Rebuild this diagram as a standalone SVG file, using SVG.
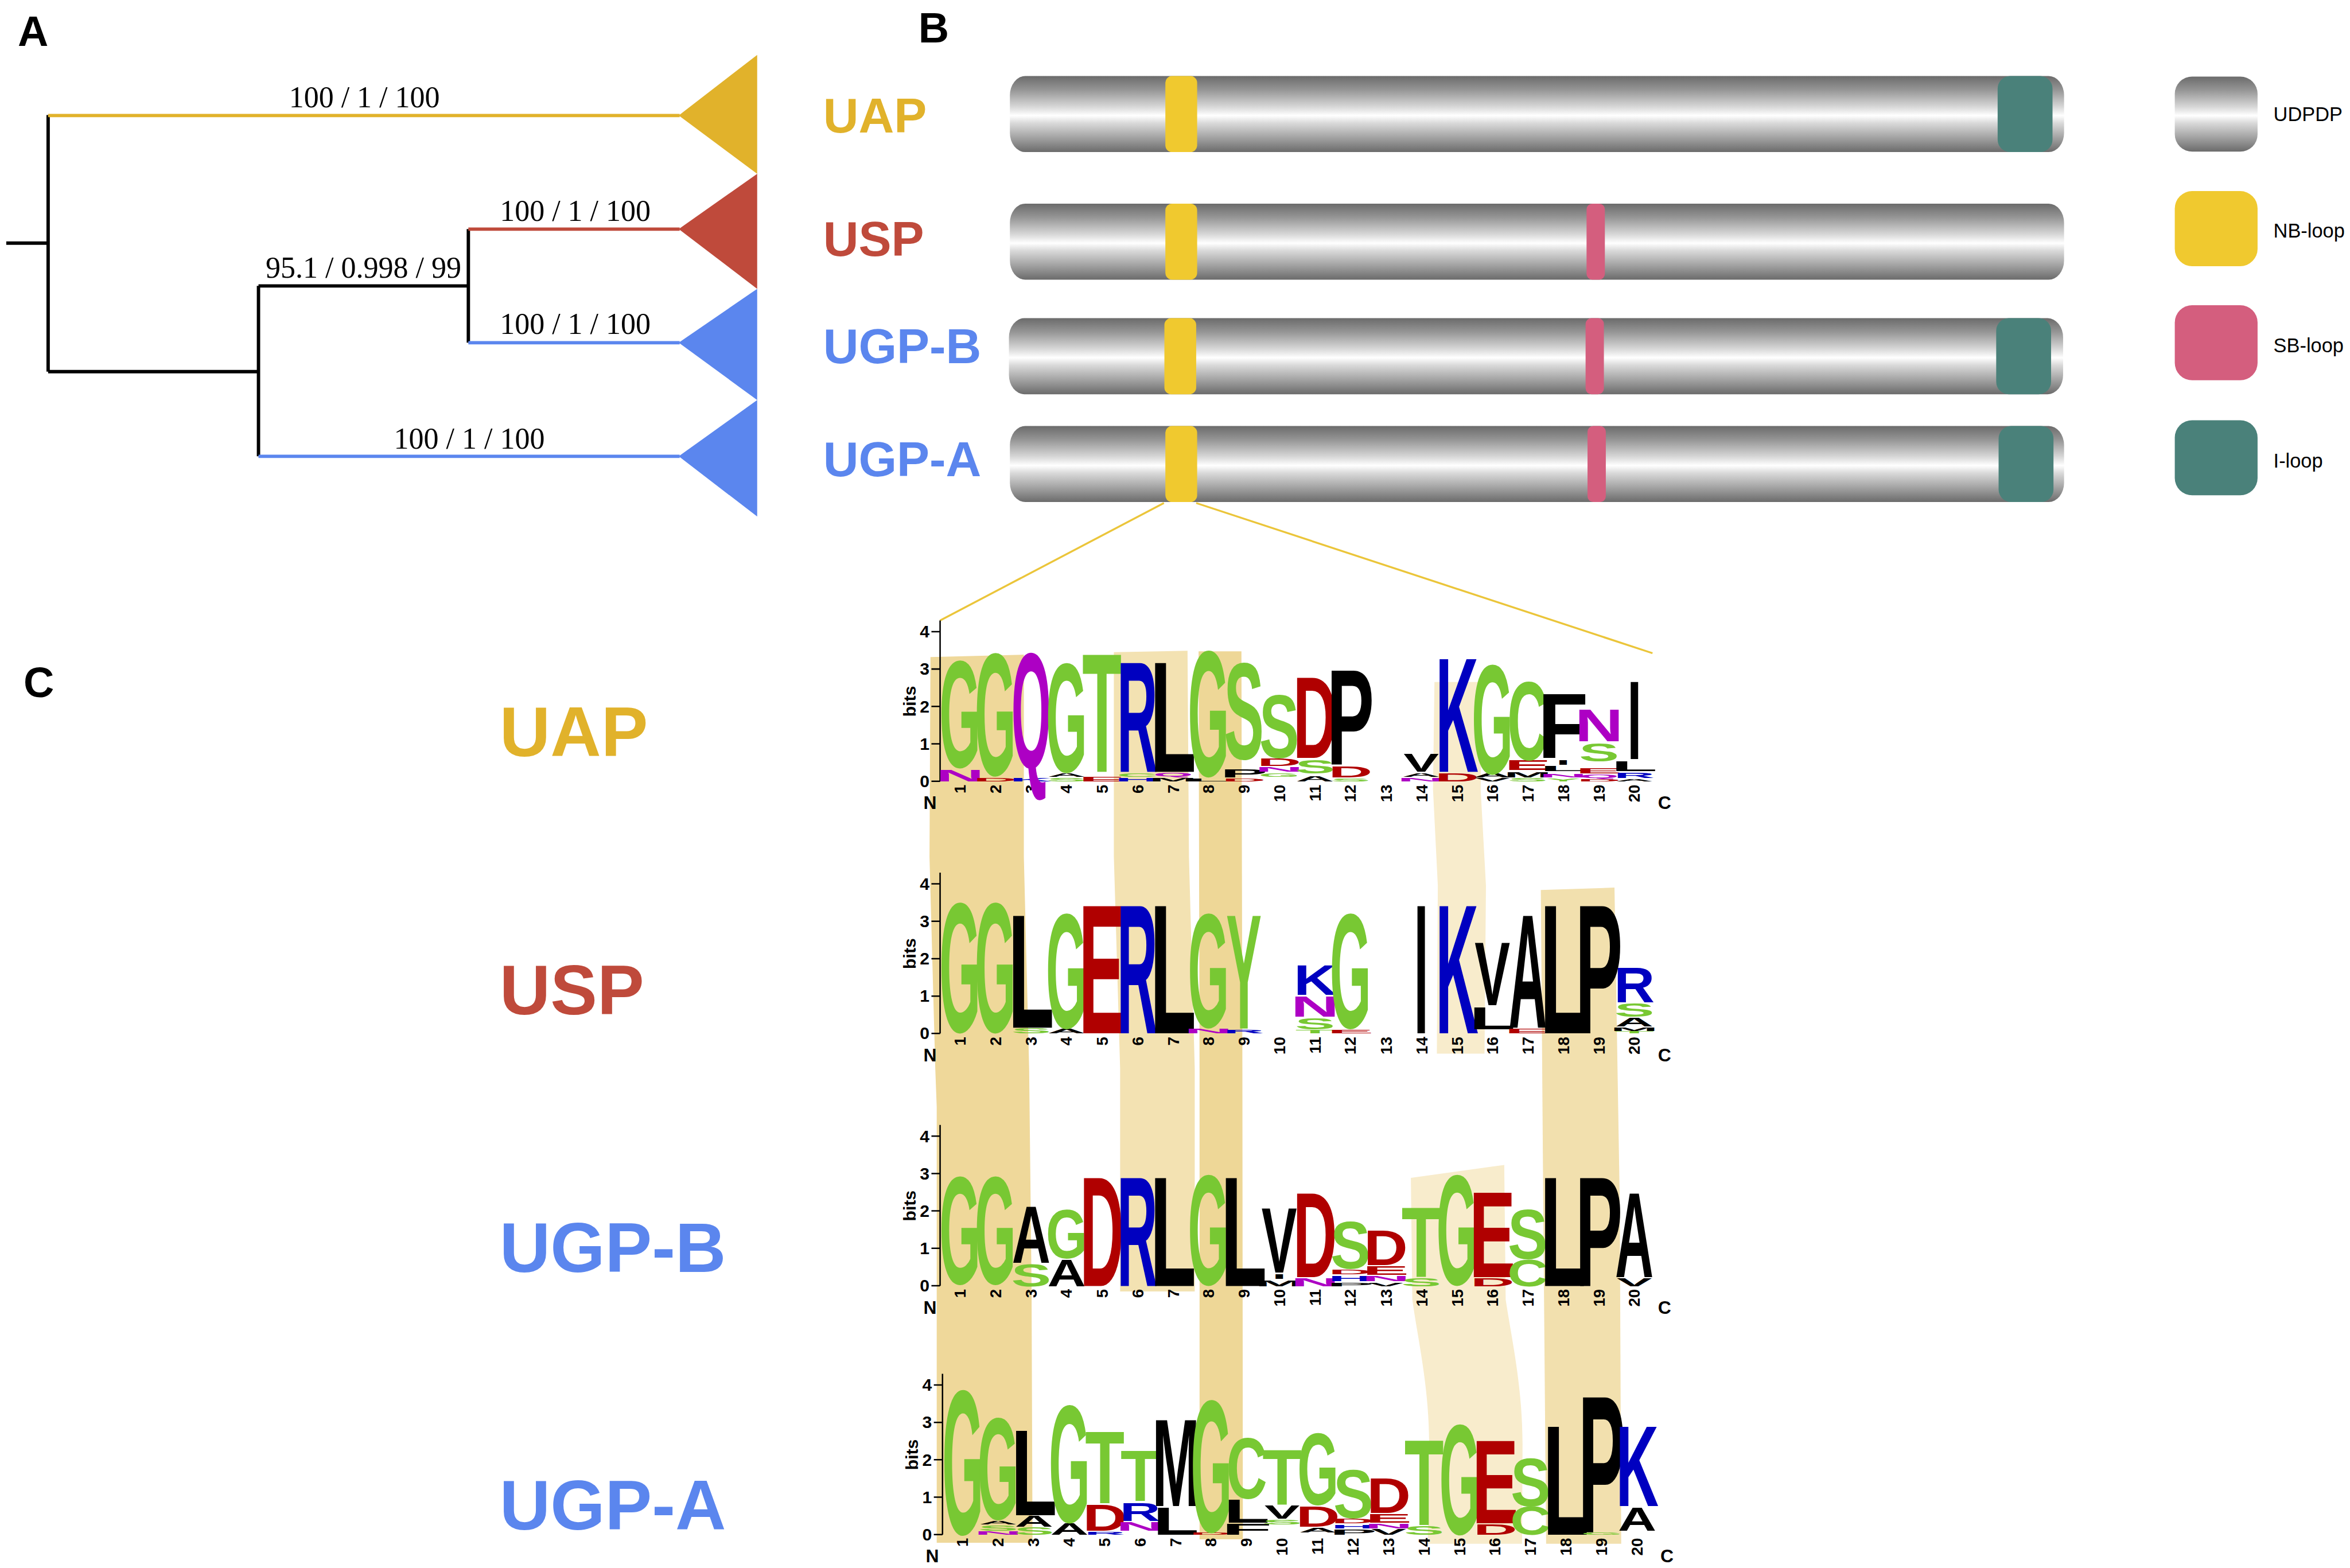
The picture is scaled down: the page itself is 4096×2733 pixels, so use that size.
<svg xmlns="http://www.w3.org/2000/svg" width="4096" height="2733" viewBox="0 0 4096 2733">
<defs>
<style>
.pl{font-family:"Liberation Sans",Arial,sans-serif;font-weight:700;font-size:88px;fill:#000}
.tl{font-family:"Liberation Serif","Times New Roman",serif;font-size:62px;fill:#000;text-anchor:middle}
.nb{font-family:"Liberation Sans",Arial,sans-serif;font-weight:700;font-size:102px}
.nc{font-family:"Liberation Sans",Arial,sans-serif;font-weight:700;font-size:146px}
.lgd{font-family:"Liberation Sans",Arial,sans-serif;font-size:41px;fill:#000}
.gold{fill:#E1B22B}.red{fill:#BF4A3B}.blue{fill:#5B86EE}
.lg text{font-family:"Liberation Sans",Arial,Helvetica,sans-serif;font-weight:700;font-size:100px;text-anchor:middle}
.g{fill:#78C833}.b{fill:#0000C0}.r{fill:#B00000}.k{fill:#000}.m{fill:#AD00C4}
.ax text{font-family:"Liberation Sans",Arial,sans-serif;font-weight:700;fill:#000}
.tk{font-size:36px;text-anchor:end}
.xn{font-size:33px;text-anchor:end}
.bits{font-size:36px;text-anchor:middle}
.ncx{font-size:38px;text-anchor:middle}
.bar{fill:url(#gray)}
.nbl{fill:#F0C92F}.sbl{fill:#D45E7E}.il{fill:#4A817A}
</style>
<linearGradient id="gray" x1="0" y1="0" x2="0" y2="1">
<stop offset="0" stop-color="#6b6b6b"/>
<stop offset="0.18" stop-color="#959595"/>
<stop offset="0.4" stop-color="#d6d6d6"/>
<stop offset="0.52" stop-color="#ffffff"/>
<stop offset="0.62" stop-color="#d9d9d9"/>
<stop offset="0.85" stop-color="#979797"/>
<stop offset="1" stop-color="#6b6b6b"/>
</linearGradient>
<g id="axis" class="ax">
<path d="M1953,-334V0M1935,0H1953M1935,-77.7H1953M1935,-155.4H1953M1935,-233.1H1953M1935,-310.8H1953" stroke="#000" stroke-width="3" fill="none"/>
<g class="tk"><text x="1931" y="12">0</text><text x="1931" y="-65.5">1</text><text x="1931" y="-143">2</text><text x="1931" y="-221">3</text><text x="1931" y="-298.5">4</text></g>
<text class="bits" transform="translate(1902,-166) rotate(-90)">bits</text>
<g class="xn">
<text transform="translate(2006,7) rotate(-90)">1</text>
<text transform="translate(2080,7) rotate(-90)">2</text>
<text transform="translate(2154,7) rotate(-90)">3</text>
<text transform="translate(2227,7) rotate(-90)">4</text>
<text transform="translate(2301,7) rotate(-90)">5</text>
<text transform="translate(2375,7) rotate(-90)">6</text>
<text transform="translate(2449,7) rotate(-90)">7</text>
<text transform="translate(2522,7) rotate(-90)">8</text>
<text transform="translate(2596,7) rotate(-90)">9</text>
<text transform="translate(2670,7) rotate(-90)">10</text>
<text transform="translate(2744,7) rotate(-90)">11</text>
<text transform="translate(2817,7) rotate(-90)">12</text>
<text transform="translate(2891,7) rotate(-90)">13</text>
<text transform="translate(2965,7) rotate(-90)">14</text>
<text transform="translate(3039,7) rotate(-90)">15</text>
<text transform="translate(3112,7) rotate(-90)">16</text>
<text transform="translate(3186,7) rotate(-90)">17</text>
<text transform="translate(3260,7) rotate(-90)">18</text>
<text transform="translate(3334,7) rotate(-90)">19</text>
<text transform="translate(3407,7) rotate(-90)">20</text>
</g>
<text class="ncx" x="1932" y="58">N</text><text class="ncx" x="3458" y="58">C</text>
</g>
</defs>
<rect width="4096" height="2733" fill="#fff"/>
<g transform="scale(0.839)">
<text class="pl" x="37" y="95">A</text>
<text class="pl" x="1908" y="88">B</text>
<text class="pl" x="49" y="1448">C</text>

<g id="connectors" fill="none" stroke-width="7">
<path d="M13,505H100M100,239V772M100,772H537M537,594V948M537,594H973M973,476V712" stroke="#000"/>
<path d="M100,240H1412" stroke="#E1B22B"/>
<path d="M973,476H1412" stroke="#BF4A3B"/>
<path d="M973,712H1412M537,948H1412" stroke="#5B86EE"/>
<path d="M2418,1045L1953,1289M2485,1045L3433,1357" stroke="#EBC53A" stroke-width="4"/>
</g>
<g id="tree-labels">
<text class="tl" x="757" y="223">100 / 1 / 100</text>
<text class="tl" x="1195" y="459">100 / 1 / 100</text>
<text class="tl" x="1195" y="694">100 / 1 / 100</text>
<text class="tl" x="975" y="932">100 / 1 / 100</text>
<text class="tl" x="755" y="577">95.1 / 0.998 / 99</text>
</g>
<g id="clade-UAP"><polygon class="gold" points="1410,240 1573,114 1573,361"/></g>
<g id="clade-USP"><polygon class="red" points="1410,476 1573,361 1573,600"/></g>
<g id="clade-UGP-B"><polygon class="blue" points="1410,712 1573,600 1573,831"/></g>
<g id="clade-UGP-A"><polygon class="blue" points="1410,948 1573,831 1573,1073"/></g>

<g id="domain-UAP">
<text class="nb gold" x="1710" y="275">UAP</text>
<rect class="bar" x="2098" y="158" width="2190" height="158" rx="32" ry="40"/>
<rect class="nbl" x="2421" y="158" width="66" height="158" rx="14"/>
<rect class="il" x="4150" y="158" width="114" height="158" rx="26"/>
</g>
<g id="domain-USP">
<text class="nb red" x="1710" y="532">USP</text>
<rect class="bar" x="2098" y="423" width="2190" height="158" rx="32" ry="40"/>
<rect class="nbl" x="2421" y="423" width="66" height="158" rx="14"/>
<rect class="sbl" x="3296" y="423" width="38" height="158" rx="12"/>
</g>
<g id="domain-UGP-B">
<text class="nb blue" x="1710" y="754">UGP-B</text>
<rect class="bar" x="2096" y="661" width="2190" height="158" rx="32" ry="40"/>
<rect class="nbl" x="2419" y="661" width="66" height="158" rx="14"/>
<rect class="sbl" x="3294" y="661" width="38" height="158" rx="12"/>
<rect class="il" x="4147" y="661" width="114" height="158" rx="26"/>
</g>
<g id="domain-UGP-A">
<text class="nb blue" x="1710" y="989">UGP-A</text>
<rect class="bar" x="2098" y="885" width="2190" height="158" rx="32" ry="40"/>
<rect class="nbl" x="2421" y="885" width="66" height="158" rx="14"/>
<rect class="sbl" x="3298" y="885" width="38" height="158" rx="12"/>
<rect class="il" x="4152" y="885" width="114" height="158" rx="26"/>
</g>

<g id="legend">
<rect class="bar" x="4518" y="159" width="172" height="156" rx="36"/>
<text class="lgd" x="4723" y="251">UDPDP</text>
<rect class="nbl" x="4518" y="397" width="172" height="156" rx="36"/>
<text class="lgd" x="4723" y="493">NB-loop</text>
<rect class="sbl" x="4518" y="634" width="172" height="156" rx="36"/>
<text class="lgd" x="4723" y="732">SB-loop</text>
<rect class="il" x="4518" y="873" width="172" height="156" rx="36"/>
<text class="lgd" x="4723" y="971">I-loop</text>
</g>

<g id="bands">
<polygon fill="#EFD89A" points="1933,1365 2127,1360 2127,1780 2138,2220 2143,2672 2145,3205 1946,3205 1946,2300 1943,2220 1931,1780"/>
<polygon fill="#F3E2B2" points="2314,1355 2467,1352 2470,1780 2482,2220 2482,2683 2327,2683 2327,2220 2314,1780"/>
<polygon fill="#EED797" points="2490,1353 2579,1353 2581,2220 2582,3198 2492,3198 2492,2220"/>
<polygon fill="#F8ECCC" points="2980,1417 3079,1417 3076,1640 3087,1840 3084,2189 2985,2189 2987,1840 2977,1640"/>
<path fill="#F8ECCC" d="M2931,2447L3125,2420L3128,2700C3140,2780 3163,2880 3163,3000L3162,3207L2966,3207L2969,3000C2969,2880 2945,2780 2934,2700Z"/>
<polygon fill="#F2E0AE" points="3201,1849 3354,1844 3365,2500 3368,3207 3212,3207 3206,2500"/>
</g>

<g id="label-C">
<text class="nc gold" x="1038" y="1571">UAP</text>
<text class="nc red" x="1038" y="2107">USP</text>
<text class="nc blue" x="1038" y="2643">UGP-B</text>
<text class="nc blue" x="1038" y="3178">UGP-A</text>
</g>

<g id="logo-UAP">
<use href="#axis" transform="translate(0,1623)"/>
<g class="lg" transform="translate(1880,1260) scale(1.0204,0.33333)">
<text class="m" transform="translate(112,1089) scale(1.361,1.075)">N</text>
<text class="g" transform="translate(112,1000) scale(1.082,9.497)">G</text>
<text class="r" transform="translate(184,1089) scale(1.241,.335)">D</text>
<text class="g" transform="translate(184,1050) scale(1.082,10.89)">G</text>
<text class="b" transform="translate(257,1089) scale(1.206,.335)">K</text>
<text class="m" transform="translate(257,1005) scale(1.036,10.27)">Q</text>
<text class="g" transform="translate(329,1089) scale(1.221,.293)">S</text>
<text class="k" transform="translate(329,1060) scale(1.086,.349)">A</text>
<text class="g" transform="translate(329,1030) scale(1.082,9.706)">G</text>
<text class="r" transform="translate(401,1089) scale(1.416,.405)">E</text>
<text class="g" transform="translate(401,1030) scale(1.316,10.59)">T</text>
<text class="b" transform="translate(473,1089) scale(1.261,.335)">H</text>
<text class="g" transform="translate(473,1060) scale(1.151,.349)">C</text>
<text class="b" transform="translate(473,1030) scale(1.146,9.846)">R</text>
<text class="k" transform="translate(546,1089) scale(1.165,.335)">M</text>
<text class="m" transform="translate(546,1058) scale(1.036,.321)">Q</text>
<text class="k" transform="translate(546,1030) scale(1.537,9.846)">L</text>
<text class="k" transform="translate(618,1089) scale(1.537,.265)">L</text>
<text class="g" transform="translate(618,1055) scale(1.082,11.17)">G</text>
<text class="r" transform="translate(690,1089) scale(1.241,.265)">D</text>
<text class="k" transform="translate(690,1065) scale(1.439,.698)">P</text>
<text class="g" transform="translate(690,950) scale(1.221,8.589)">S</text>
<text class="g" transform="translate(762,1060) scale(1.082,.349)">G</text>
<text class="m" transform="translate(762,1030) scale(1.361,.419)">N</text>
<text class="r" transform="translate(762,995) scale(1.241,.628)">D</text>
<text class="g" transform="translate(762,940) scale(1.221,5.586)">S</text>
<text class="k" transform="translate(835,1089) scale(1.086,.475)">A</text>
<text class="g" transform="translate(835,1040) scale(1.221,1.187)">S</text>
<text class="r" transform="translate(835,945) scale(1.241,7.262)">D</text>
<text class="g" transform="translate(907,1089) scale(1.221,.265)">S</text>
<text class="r" transform="translate(907,1065) scale(1.241,.978)">D</text>
<text class="k" transform="translate(907,985) scale(1.439,8.477)">P</text>
<text class="m" transform="translate(1051,1089) scale(1.361,.335)">N</text>
<text class="k" transform="translate(1051,1060) scale(1.086,.349)">A</text>
<text class="k" transform="translate(1051,1030) scale(1.082,1.606)">V</text>
<text class="r" transform="translate(1124,1089) scale(1.241,.754)">D</text>
<text class="b" transform="translate(1124,1030) scale(1.206,10.195)">K</text>
<text class="k" transform="translate(1196,1089) scale(1.082,.293)">V</text>
<text class="k" transform="translate(1196,1065) scale(1.086,.419)">A</text>
<text class="g" transform="translate(1196,1040) scale(1.082,9.706)">G</text>
<text class="g" transform="translate(1268,1089) scale(1.221,.293)">S</text>
<text class="k" transform="translate(1268,1065) scale(1.165,.489)">M</text>
<text class="r" transform="translate(1268,1020) scale(1.416,.838)">E</text>
<text class="g" transform="translate(1268,955) scale(1.151,6.983)">C</text>
<text class="g" transform="translate(1340,1089) scale(1.082,.237)">Y</text>
<text class="m" transform="translate(1340,1065) scale(1.361,.349)">N</text>
<text class="k" transform="translate(1340,1025) scale(1.537,.489)">L</text>
<text class="k" transform="translate(1340,985) scale(1.05,.419)">I</text>
<text class="k" transform="translate(1340,945) scale(1.68,5.796)">F</text>
<text class="r" transform="translate(1413,1089) scale(1.241,.196)">D</text>
<text class="m" transform="translate(1413,1070) scale(1.036,.349)">Q</text>
<text class="r" transform="translate(1413,1040) scale(1.416,.489)">E</text>
<text class="g" transform="translate(1413,965) scale(1.221,1.606)">S</text>
<text class="m" transform="translate(1413,840) scale(1.361,2.863)">N</text>
<text class="k" transform="translate(1485,1089) scale(1.086,.196)">A</text>
<text class="b" transform="translate(1485,1068) scale(1.146,.461)">R</text>
<text class="k" transform="translate(1485,1025) scale(1.537,.838)">L</text>
<text class="k" transform="translate(1485,950) scale(1.05,6.983)">I</text>
</g>
</g>

<g id="logo-USP">
<use href="#axis" transform="translate(0,2147)"/>
<g class="lg" transform="translate(1880,1780) scale(1.0204,0.33333)">
<text class="g" transform="translate(112,1090) scale(1.082,11.52)">G</text>
<text class="g" transform="translate(184,1090) scale(1.082,11.52)">G</text>
<text class="g" transform="translate(257,1100) scale(1.221,.489)">S</text>
<text class="k" transform="translate(257,1065) scale(1.537,10.125)">L</text>
<text class="k" transform="translate(329,1100) scale(1.086,.419)">A</text>
<text class="g" transform="translate(329,1065) scale(1.082,10.195)">G</text>
<text class="r" transform="translate(401,1100) scale(1.416,11.52)">E</text>
<text class="b" transform="translate(473,1100) scale(1.146,11.52)">R</text>
<text class="k" transform="translate(546,1100) scale(1.537,11.52)">L</text>
<text class="m" transform="translate(618,1100) scale(1.361,.419)">N</text>
<text class="g" transform="translate(618,1060) scale(1.082,10.125)">G</text>
<text class="b" transform="translate(690,1100) scale(1.146,.349)">R</text>
<text class="g" transform="translate(690,1070) scale(1.082,10.195)">Y</text>
<text class="g" transform="translate(835,1100) scale(1.316,.307)">T</text>
<text class="g" transform="translate(835,1075) scale(1.221,.978)">S</text>
<text class="m" transform="translate(835,995) scale(1.361,1.816)">N</text>
<text class="b" transform="translate(835,860) scale(1.206,2.681)">K</text>
<text class="r" transform="translate(907,1100) scale(1.416,.349)">E</text>
<text class="g" transform="translate(907,1065) scale(1.082,10.195)">G</text>
<text class="k" transform="translate(1051,1100) scale(1.05,11.52)">I</text>
<text class="b" transform="translate(1124,1100) scale(1.206,11.52)">K</text>
<text class="k" transform="translate(1196,1075) scale(1.537,1.955)">L</text>
<text class="k" transform="translate(1196,925) scale(1.082,5.656)">V</text>
<text class="r" transform="translate(1268,1100) scale(1.416,.391)">E</text>
<text class="k" transform="translate(1268,1065) scale(1.086,10.125)">A</text>
<text class="k" transform="translate(1340,1100) scale(1.537,11.52)">L</text>
<text class="k" transform="translate(1413,1100) scale(1.439,11.52)">P</text>
<text class="g" transform="translate(1485,1100) scale(1.316,.209)">T</text>
<text class="k" transform="translate(1485,1085) scale(1.165,.349)">M</text>
<text class="k" transform="translate(1485,1058) scale(1.086,.81)">A</text>
<text class="g" transform="translate(1485,995) scale(1.221,1.187)">S</text>
<text class="b" transform="translate(1485,905) scale(1.146,3.142)">R</text>
</g>
</g>

<g id="logo-UGP-B">
<use href="#axis" transform="translate(0,2671)"/>
<g class="lg" transform="translate(1880,2300) scale(1.0204,0.33333)">
<text class="g" transform="translate(112,1100) scale(1.082,9.567)">G</text>
<text class="g" transform="translate(184,1100) scale(1.082,9.567)">G</text>
<text class="g" transform="translate(257,1115) scale(1.221,1.955)">S</text>
<text class="k" transform="translate(257,970) scale(1.086,5.028)">A</text>
<text class="k" transform="translate(329,1115) scale(1.086,2.374)">A</text>
<text class="g" transform="translate(329,940) scale(1.082,4.329)">G</text>
<text class="r" transform="translate(401,1115) scale(1.241,9.776)">D</text>
<text class="b" transform="translate(473,1115) scale(1.146,9.776)">R</text>
<text class="k" transform="translate(546,1115) scale(1.537,9.776)">L</text>
<text class="g" transform="translate(618,1105) scale(1.082,9.776)">G</text>
<text class="k" transform="translate(690,1115) scale(1.537,9.776)">L</text>
<text class="k" transform="translate(762,1115) scale(1.165,.517)">M</text>
<text class="k" transform="translate(762,1070) scale(1.05,.419)">I</text>
<text class="k" transform="translate(762,1030) scale(1.082,5.796)">V</text>
<text class="m" transform="translate(835,1115) scale(1.361,.698)">N</text>
<text class="r" transform="translate(835,1060) scale(1.241,7.542)">D</text>
<text class="k" transform="translate(907,1115) scale(1.439,.349)">P</text>
<text class="b" transform="translate(907,1085) scale(1.261,.489)">H</text>
<text class="r" transform="translate(907,1040) scale(1.241,.419)">D</text>
<text class="g" transform="translate(907,1005) scale(1.221,4.19)">S</text>
<text class="k" transform="translate(979,1115) scale(1.082,.349)">V</text>
<text class="m" transform="translate(979,1085) scale(1.361,.489)">N</text>
<text class="r" transform="translate(979,1045) scale(1.416,.768)">E</text>
<text class="r" transform="translate(979,985) scale(1.241,3.142)">D</text>
<text class="g" transform="translate(1051,1115) scale(1.221,.698)">S</text>
<text class="g" transform="translate(1051,1060) scale(1.316,6.215)">T</text>
<text class="g" transform="translate(1124,1105) scale(1.082,9.776)">G</text>
<text class="r" transform="translate(1196,1115) scale(1.241,.698)">D</text>
<text class="r" transform="translate(1196,1060) scale(1.416,7.612)">E</text>
<text class="g" transform="translate(1268,1115) scale(1.151,2.374)">C</text>
<text class="g" transform="translate(1268,945) scale(1.221,4.399)">S</text>
<text class="k" transform="translate(1340,1115) scale(1.537,9.776)">L</text>
<text class="k" transform="translate(1413,1115) scale(1.439,9.776)">P</text>
<text class="k" transform="translate(1485,1115) scale(1.082,.698)">V</text>
<text class="k" transform="translate(1485,1060) scale(1.086,7.542)">A</text>
</g>
</g>

<g id="logo-UGP-A">
<use href="#axis" transform="translate(5,3188)"/>
<g class="lg" transform="translate(1886,2820) scale(1.0204,0.33333)">
<text class="g" transform="translate(112,1100) scale(1.082,12.85)">G</text>
<text class="m" transform="translate(184,1105) scale(1.361,.349)">N</text>
<text class="g" transform="translate(184,1080) scale(1.221,.489)">S</text>
<text class="k" transform="translate(184,1040) scale(1.086,.349)">A</text>
<text class="g" transform="translate(184,1010) scale(1.082,9.008)">G</text>
<text class="g" transform="translate(257,1105) scale(1.221,.628)">S</text>
<text class="k" transform="translate(257,1055) scale(1.086,.978)">A</text>
<text class="k" transform="translate(257,985) scale(1.537,7.612)">L</text>
<text class="k" transform="translate(329,1105) scale(1.086,1.047)">A</text>
<text class="g" transform="translate(329,1025) scale(1.082,10.43)">G</text>
<text class="b" transform="translate(401,1105) scale(1.146,.279)">R</text>
<text class="r" transform="translate(401,1080) scale(1.241,2.304)">D</text>
<text class="g" transform="translate(401,910) scale(1.316,6.424)">T</text>
<text class="m" transform="translate(473,1080) scale(1.361,.768)">N</text>
<text class="b" transform="translate(473,1020) scale(1.146,1.606)">R</text>
<text class="g" transform="translate(473,895) scale(1.316,4.539)">T</text>
<text class="k" transform="translate(546,1105) scale(1.537,2.444)">L</text>
<text class="k" transform="translate(546,925) scale(1.165,7.751)">M</text>
<text class="r" transform="translate(618,1105) scale(1.241,.209)">D</text>
<text class="g" transform="translate(618,1085) scale(1.082,11.73)">G</text>
<text class="k" transform="translate(690,1105) scale(1.68,.978)">F</text>
<text class="k" transform="translate(690,1030) scale(1.537,2.025)">L</text>
<text class="g" transform="translate(690,880) scale(1.151,5.377)">C</text>
<text class="g" transform="translate(762,1040) scale(1.221,.419)">S</text>
<text class="k" transform="translate(762,1005) scale(1.082,1.187)">V</text>
<text class="g" transform="translate(762,915) scale(1.316,4.888)">T</text>
<text class="k" transform="translate(835,1090) scale(1.086,.419)">A</text>
<text class="r" transform="translate(835,1055) scale(1.241,1.816)">D</text>
<text class="g" transform="translate(835,915) scale(1.082,6.355)">G</text>
<text class="k" transform="translate(907,1105) scale(1.439,.489)">P</text>
<text class="b" transform="translate(907,1065) scale(1.261,.349)">H</text>
<text class="r" transform="translate(907,1035) scale(1.241,.419)">D</text>
<text class="g" transform="translate(907,1000) scale(1.221,4.33)">S</text>
<text class="k" transform="translate(979,1105) scale(1.082,.489)">V</text>
<text class="m" transform="translate(979,1065) scale(1.361,.419)">N</text>
<text class="r" transform="translate(979,1030) scale(1.416,.768)">E</text>
<text class="r" transform="translate(979,970) scale(1.241,3.142)">D</text>
<text class="g" transform="translate(1051,1105) scale(1.221,.768)">S</text>
<text class="g" transform="translate(1051,1045) scale(1.316,7.612)">T</text>
<text class="g" transform="translate(1124,1100) scale(1.082,9.776)">G</text>
<text class="r" transform="translate(1196,1105) scale(1.241,.908)">D</text>
<text class="r" transform="translate(1196,1035) scale(1.416,7.402)">E</text>
<text class="g" transform="translate(1268,1105) scale(1.151,2.514)">C</text>
<text class="g" transform="translate(1268,925) scale(1.221,4.26)">S</text>
<text class="k" transform="translate(1340,1105) scale(1.537,9.776)">L</text>
<text class="g" transform="translate(1413,1105) scale(1.082,.209)">G</text>
<text class="k" transform="translate(1413,1090) scale(1.439,12.22)">P</text>
<text class="k" transform="translate(1485,1080) scale(1.086,2.025)">A</text>
<text class="b" transform="translate(1485,925) scale(1.206,7.193)">K</text>
</g>
</g>
</g>
</svg>
